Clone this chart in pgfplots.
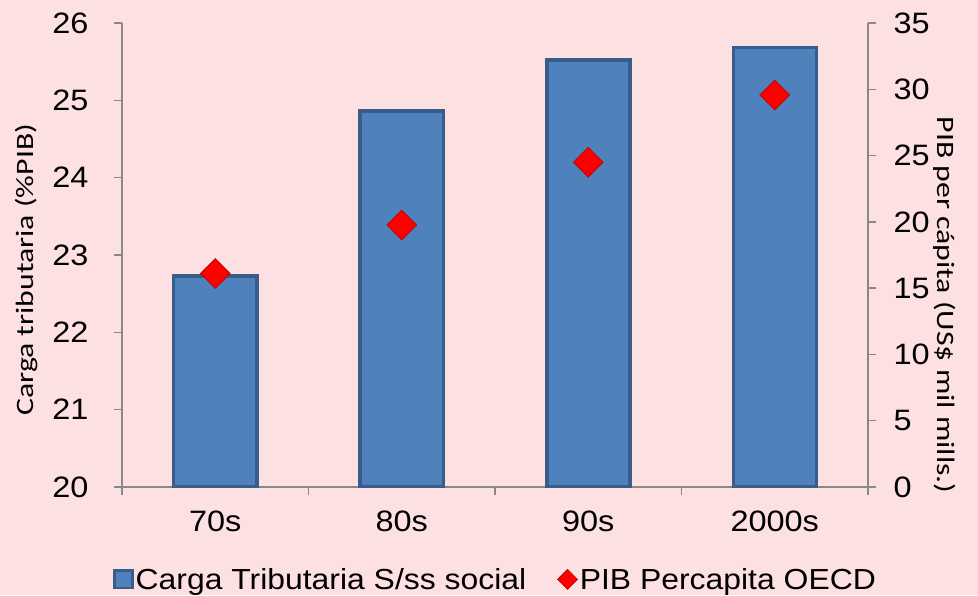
\documentclass[border=0pt]{standalone}
\usepackage{fontspec}
\setmainfont{Liberation Sans}[FakeStretch=1.1]
\newfontfamily\carlito{Carlito}[FakeStretch=1.27]
\usepackage{pgfplots}
\pgfplotsset{compat=1.18}
\definecolor{bg}{RGB}{253,225,226}
\definecolor{barfill}{RGB}{79,129,189}
\definecolor{barline}{RGB}{56,93,138}
\definecolor{axgray}{RGB}{137,137,137}
\definecolor{diamred}{RGB}{255,0,0}
\begin{document}
\begin{tikzpicture}
\fill[bg] (0,0) rectangle (978pt,595pt);
\path[use as bounding box] (0,0) rectangle (978pt,595pt);
\begin{axis}[
  at={(122pt,108pt)}, anchor=south west,
  scale only axis, width=746pt, height=464pt,
  xmin=-0.5, xmax=3.5, ymin=20, ymax=26,
  axis x line*=bottom, axis y line*=left,
  axis line style={axgray, line width=1.3pt},
  xtick={0,1,2,3}, xticklabels={70s,80s,90s,2000s},
  major x tick style={draw=none},
  minor xtick={-0.5,0.5,1.5,2.5,3.5},
  ytick={20,21,...,26},
  tick align=outside, major tick length=8pt, minor tick length=8pt,
  every tick/.style={axgray, line width=1.3pt},
  ticklabel style={font=\fontsize{29.5}{34}\selectfont},
  xticklabel style={yshift=-12pt},
  yticklabel style={xshift=-22pt},
  /pgf/number format/assume math mode=true,
  ylabel={Carga tributaria (\%PIB)},
  ylabel style={font=\carlito\fontsize{25}{30}\selectfont, at={(axis description cs:-0.128,0.468)}, anchor=center},
  ybar, bar width=83pt,
  legend columns=2,
  legend style={at={(axis description cs:0.5007,-0.199)}, anchor=center, draw=none, fill=none,
    font=\fontsize{29}{34}\selectfont,
    /tikz/every even column/.append style={column sep=29pt}},
]
\addplot[fill=barfill, draw=barline, line width=3.5pt,
  legend image code/.code={\draw[fill=barfill, draw=barline, line width=2.5pt] (0pt,-8.5pt) rectangle (18pt,9pt);}]
  coordinates {(0,22.73) (1,24.86) (2,25.52) (3,25.68)};
\addlegendentry{Carga Tributaria S/ss social}
\addlegendimage{legend image code/.code={\draw[fill=diamred, draw=red!75!black, line width=0.6pt] (10pt,-10pt) -- (20pt,0pt) -- (10pt,10pt) -- (0pt,0pt) -- cycle;}}
\addlegendentry{PIB Percapita OECD}
\end{axis}
\begin{axis}[
  at={(122pt,108pt)}, anchor=south west,
  scale only axis, width=746pt, height=464pt,
  xmin=-0.5, xmax=3.5, ymin=0, ymax=35,
  axis x line=none, axis y line*=right,
  axis line style={axgray, line width=1.3pt},
  ytick={0,5,...,35},
  tick align=outside, major tick length=8pt,
  every tick/.style={axgray, line width=1.3pt},
  ticklabel style={font=\fontsize{29.5}{34}\selectfont},
  yticklabel style={xshift=14pt},
  /pgf/number format/assume math mode=true,
  ylabel={PIB per cápita (US\$ mil mills.)},
  ylabel style={font=\carlito\fontsize{25}{30}\selectfont, at={(axis description cs:1.103,0.392)}, anchor=center, rotate=180},
  clip=false,
]
\addplot[only marks, mark=square*, mark size=10.5pt, mark options={rotate=45, fill=diamred, draw=red!75!black, line width=0.8pt}]
  coordinates {(0,16.1) (1,19.76) (2,24.5) (3,29.57)};
\end{axis}
\end{tikzpicture}
\end{document}
